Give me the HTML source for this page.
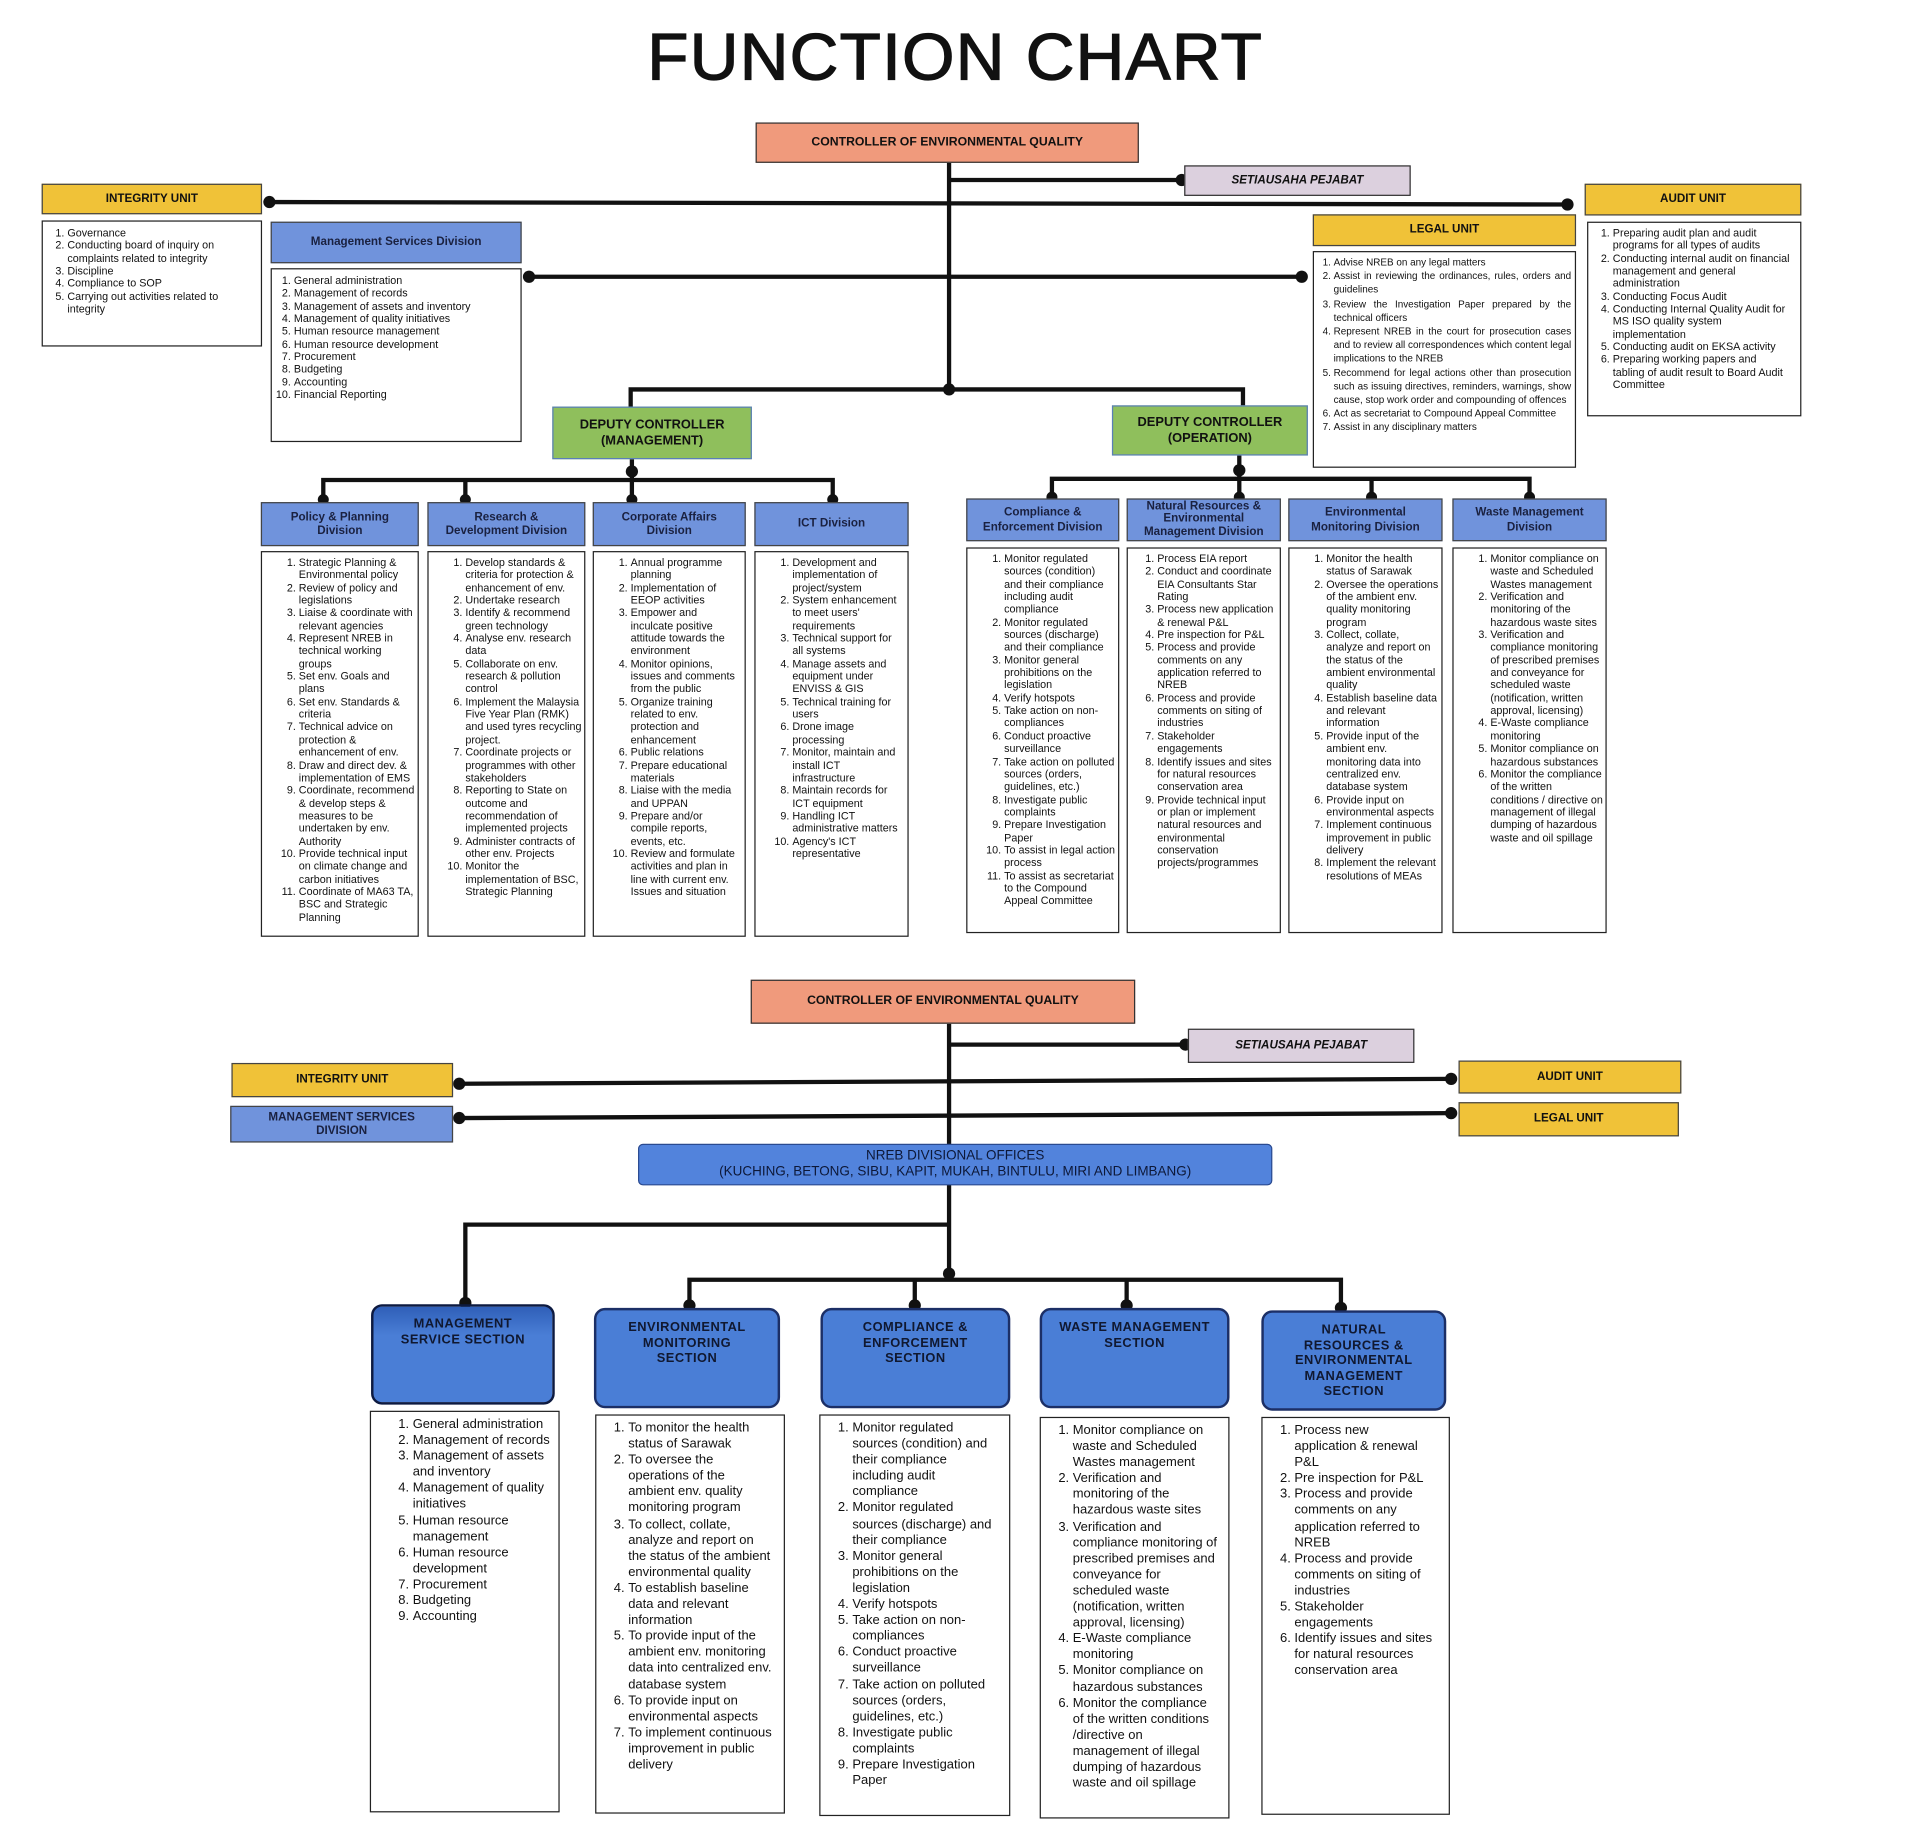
<!DOCTYPE html>
<html><head><meta charset="utf-8">
<style>
html,body{margin:0;padding:0;background:#fff;}
body{width:1920px;height:1844px;overflow:hidden;position:relative;}
#c{position:absolute;left:0;top:0;width:1568px;height:1506px;transform:scale(1.2246);transform-origin:0 0;font-family:"Liberation Sans",Arial,sans-serif;color:#111;}
.h{position:absolute;display:flex;align-items:center;justify-content:center;text-align:center;font-weight:bold;box-sizing:border-box;border:1.5px solid #444;line-height:1.2;}
.b{position:absolute;box-sizing:border-box;border:1.5px solid #222;background:#fff;}
.y{background:#f0c238;font-size:9.5px;}
.bl{background:#7093dc;font-size:9.5px;color:#1a2140;}
.gr{background:#8fbf5c;font-size:10.5px;border-color:#5a7fb8;}
.sa{background:#f09a7c;font-size:10px;border-color:#333;}
.pu{background:#dcd0de;font-size:9.5px;font-style:italic;border-color:#333;}
ol{margin:0;padding:0 0 0 26px;}
.t ol{font-size:8.8px;line-height:10.35px;padding-left:30px;}
.t li{padding-left:0;}
.s ol{font-size:10.6px;line-height:13.1px;padding-left:26px;}
.sec{position:absolute;box-sizing:border-box;border:2px solid #1c2f66;border-radius:9px;background:#4a7ed6;display:flex;justify-content:center;text-align:center;font-weight:bold;font-size:10.5px;line-height:12.5px;color:#101830;letter-spacing:.4px;padding-top:8px;}
</style></head><body><div id="c">
<div style="position:absolute;left:0;width:1560px;top:16px;text-align:center;font-size:54px;letter-spacing:1px;-webkit-text-stroke:1px #111;transform:scaleX(1.02);">FUNCTION CHART</div>

<svg width="1560" height="1498" style="position:absolute;left:0;top:0" stroke="#111" fill="#111">
<g stroke-width="3.5" fill="none">
<line x1="775" y1="133" x2="775" y2="318"/>
<line x1="775" y1="147" x2="965" y2="147"/>
<line x1="220" y1="165" x2="1280" y2="167"/>
<line x1="432" y1="226" x2="1063" y2="226"/>
<polyline points="515,332 515,318 1015,318 1015,331"/>
<line x1="516" y1="375" x2="516" y2="392"/>
<polyline points="264,408 264,392 680,392 680,408"/>
<line x1="380" y1="392" x2="380" y2="408"/><line x1="516" y1="392" x2="516" y2="408"/>
<line x1="1012" y1="372" x2="1012" y2="391"/>
<polyline points="859,407 859,391 1249,391 1249,407"/>
<line x1="1012" y1="391" x2="1012" y2="407"/><line x1="1120" y1="391" x2="1120" y2="407"/>
<line x1="775" y1="836" x2="775" y2="1045"/>
<line x1="775" y1="853" x2="968" y2="853"/>
<line x1="375" y1="885" x2="1185" y2="881"/>
<line x1="375" y1="913" x2="1185" y2="909"/>
<polyline points="380,1065 380,1000 775,1000"/>
<polyline points="563,1068 563,1045 1095,1045 1095,1070"/>
<line x1="747" y1="1045" x2="747" y2="1068"/><line x1="920" y1="1045" x2="920" y2="1068"/>
</g>
<g stroke="none">
<circle cx="965" cy="147" r="5"/><circle cx="220" cy="165" r="5"/><circle cx="1280" cy="167" r="5"/>
<circle cx="432" cy="226" r="5"/><circle cx="1063" cy="226" r="5"/><circle cx="775" cy="318" r="5"/>
<circle cx="516" cy="385" r="5"/><circle cx="264" cy="408" r="4.5"/><circle cx="380" cy="408" r="4.5"/><circle cx="516" cy="408" r="4.5"/><circle cx="680" cy="408" r="4.5"/>
<circle cx="1012" cy="384" r="5"/><circle cx="859" cy="406" r="4.5"/><circle cx="1012" cy="406" r="4.5"/><circle cx="1120" cy="406" r="4.5"/><circle cx="1249" cy="406" r="4.5"/>
<circle cx="968" cy="853" r="5"/><circle cx="375" cy="885" r="5"/><circle cx="1185" cy="881" r="5"/><circle cx="375" cy="913" r="5"/><circle cx="1185" cy="909" r="5"/>
<circle cx="775" cy="1040" r="5"/><circle cx="380" cy="1064" r="5"/><circle cx="563" cy="1066" r="5"/><circle cx="747" cy="1066" r="5"/><circle cx="920" cy="1066" r="5"/><circle cx="1095" cy="1068" r="5"/>
</g>
</svg>

<div class="h sa" style="left:617px;top:100px;width:313px;height:33px;">CONTROLLER OF ENVIRONMENTAL QUALITY</div>
<div class="h pu" style="left:967px;top:135px;width:185px;height:25px;">SETIAUSAHA PEJABAT</div>
<div class="h y" style="left:34px;top:150px;width:180px;height:25px;">INTEGRITY UNIT</div>
<div class="b t" style="left:34px;top:180px;width:180px;height:103px;padding:4px 18px 0 0;"><ol style="padding-left:20px">
<li>Governance</li><li>Conducting board of inquiry on complaints related to integrity</li><li>Discipline</li><li>Compliance to SOP</li><li>Carrying out activities related to integrity</li></ol></div>
<div class="h bl" style="left:221px;top:181px;width:205px;height:34px;">Management Services Division</div>
<div class="b t" style="left:221px;top:219px;width:205px;height:142px;padding:4px 2px 0 0;"><ol style="padding-left:18px">
<li>General administration</li><li>Management of records</li><li>Management of assets and inventory</li><li>Management of quality initiatives</li><li>Human resource management</li><li>Human resource development</li><li>Procurement</li><li>Budgeting</li><li>Accounting</li><li>Financial Reporting</li></ol></div>
<div class="h y" style="left:1294px;top:150px;width:177px;height:26px;">AUDIT UNIT</div>
<div class="b t" style="left:1296px;top:181px;width:175px;height:159px;padding:3px 8px 0 0;"><ol style="padding-left:20px">
<li>Preparing audit plan and audit programs for all types of audits</li><li>Conducting internal audit on financial management and general administration</li><li>Conducting Focus Audit</li><li>Conducting Internal Quality Audit for MS ISO quality system implementation</li><li>Conducting audit on EKSA activity</li><li>Preparing working papers and tabling of audit result to Board Audit Committee</li></ol></div>
<div class="h y" style="left:1072px;top:175px;width:215px;height:26px;">LEGAL UNIT</div>
<div class="b t" style="left:1072px;top:205px;width:215px;height:177px;padding:3px 3px 0 0;text-align:justify;"><ol style="padding-left:16px;font-size:8.1px;line-height:11.2px;">
<li>Advise NREB on any legal matters</li><li>Assist in reviewing the ordinances, rules, orders and guidelines</li><li>Review the Investigation Paper prepared by the technical officers</li><li>Represent NREB in the court for prosecution cases and to review all correspondences which content legal implications to the NREB</li><li>Recommend for legal actions other than prosecution such as issuing directives, reminders, warnings, show cause, stop work order and compounding of offences</li><li>Act as secretariat to Compound Appeal Committee</li><li>Assist in any disciplinary matters</li></ol></div>
<div class="h gr" style="left:451px;top:332px;width:163px;height:43px;">DEPUTY CONTROLLER<br>(MANAGEMENT)</div>
<div class="h gr" style="left:908px;top:331px;width:160px;height:41px;">DEPUTY CONTROLLER<br>(OPERATION)</div>

<div class="h bl" style="left:213px;top:410px;width:129px;height:36px;">Policy &amp; Planning<br>Division</div>
<div class="h bl" style="left:349px;top:410px;width:129px;height:36px;">Research &amp;<br>Development Division</div>
<div class="h bl" style="left:484px;top:410px;width:125px;height:36px;">Corporate Affairs<br>Division</div>
<div class="h bl" style="left:616px;top:410px;width:126px;height:36px;">ICT Division</div>
<div class="b t" style="left:213px;top:450px;width:129px;height:315px;padding:3px 2px 0 0;"><ol>
<li>Strategic Planning &amp; Environmental policy</li><li>Review of policy and legislations</li><li>Liaise &amp; coordinate with relevant agencies</li><li>Represent NREB in technical working groups</li><li>Set env. Goals and plans</li><li>Set env. Standards &amp; criteria</li><li>Technical advice on protection &amp; enhancement of env.</li><li>Draw and direct dev. &amp; implementation of EMS</li><li>Coordinate, recommend &amp; develop steps &amp; measures to be undertaken by env. Authority</li><li>Provide technical input on climate change and carbon initiatives</li><li>Coordinate of MA63 TA, BSC and Strategic Planning</li></ol></div>
<div class="b t" style="left:349px;top:450px;width:129px;height:315px;padding:3px 2px 0 0;"><ol>
<li>Develop standards &amp; criteria for protection &amp; enhancement of env.</li><li>Undertake research</li><li>Identify &amp; recommend green technology</li><li>Analyse env. research data</li><li>Collaborate on env. research &amp; pollution control</li><li>Implement the Malaysia Five Year Plan (RMK) and used tyres recycling project.</li><li>Coordinate projects or programmes with other stakeholders</li><li>Reporting to State on outcome and recommendation of implemented projects</li><li>Administer contracts of other env. Projects</li><li>Monitor the implementation of BSC, Strategic Planning</li></ol></div>
<div class="b t" style="left:484px;top:450px;width:125px;height:315px;padding:3px 2px 0 0;"><ol>
<li>Annual programme planning</li><li>Implementation of EEOP activities</li><li>Empower and inculcate positive attitude towards the environment</li><li>Monitor opinions, issues and comments from the public</li><li>Organize training related to env. protection and enhancement</li><li>Public relations</li><li>Prepare educational materials</li><li>Liaise with the media and UPPAN</li><li>Prepare and/or compile reports, events, etc.</li><li>Review and formulate activities and plan in line with current env. Issues and situation</li></ol></div>
<div class="b t" style="left:616px;top:450px;width:126px;height:315px;padding:3px 2px 0 0;"><ol>
<li>Development and implementation of project/system</li><li>System enhancement to meet users' requirements</li><li>Technical support for all systems</li><li>Manage assets and equipment under ENVISS &amp; GIS</li><li>Technical training for users</li><li>Drone image processing</li><li>Monitor, maintain and install ICT infrastructure</li><li>Maintain records for ICT equipment</li><li>Handling ICT administrative matters</li><li>Agency's ICT representative</li></ol></div>

<div class="h bl" style="left:789px;top:407px;width:125px;height:35px;">Compliance &amp;<br>Enforcement Division</div>
<div class="h bl" style="left:920px;top:407px;width:126px;height:35px;line-height:1.1;">Natural Resources &amp;<br>Environmental<br>Management Division</div>
<div class="h bl" style="left:1052px;top:407px;width:126px;height:35px;">Environmental<br>Monitoring Division</div>
<div class="h bl" style="left:1186px;top:407px;width:126px;height:35px;">Waste Management<br>Division</div>
<div class="b t" style="left:789px;top:447px;width:125px;height:315px;padding:3px 2px 0 0;"><ol>
<li>Monitor regulated sources (condition) and their compliance including audit compliance</li><li>Monitor regulated sources (discharge) and their compliance</li><li>Monitor general prohibitions on the legislation</li><li>Verify hotspots</li><li>Take action on non-compliances</li><li>Conduct proactive surveillance</li><li>Take action on polluted sources (orders, guidelines, etc.)</li><li>Investigate public complaints</li><li>Prepare Investigation Paper</li><li>To assist in legal action process</li><li>To assist as secretariat to the Compound Appeal Committee</li></ol></div>
<div class="b t" style="left:920px;top:447px;width:126px;height:315px;padding:3px 2px 0 0;"><ol style="padding-left:24px">
<li>Process EIA report</li><li>Conduct and coordinate EIA Consultants Star Rating</li><li>Process new application &amp; renewal P&amp;L</li><li>Pre inspection for P&amp;L</li><li>Process and provide comments on any application referred to NREB</li><li>Process and provide comments on siting of industries</li><li>Stakeholder engagements</li><li>Identify issues and sites for natural resources conservation area</li><li>Provide technical input or plan or implement natural resources and environmental conservation projects/programmes</li></ol></div>
<div class="b t" style="left:1052px;top:447px;width:126px;height:315px;padding:3px 2px 0 0;"><ol>
<li>Monitor the health status of Sarawak</li><li>Oversee the operations of the ambient env. quality monitoring program</li><li>Collect, collate, analyze and report on the status of the ambient environmental quality</li><li>Establish baseline data and relevant information</li><li>Provide input of the ambient env. monitoring data into centralized env. database system</li><li>Provide input on environmental aspects</li><li>Implement continuous improvement in public delivery</li><li>Implement the relevant resolutions of MEAs</li></ol></div>
<div class="b t" style="left:1186px;top:447px;width:126px;height:315px;padding:3px 2px 0 0;"><ol>
<li>Monitor compliance on waste and Scheduled Wastes management</li><li>Verification and monitoring of the hazardous waste sites</li><li>Verification and compliance monitoring of prescribed premises and conveyance for scheduled waste (notification, written approval, licensing)</li><li>E-Waste compliance monitoring</li><li>Monitor compliance on hazardous substances</li><li>Monitor the compliance of the written conditions / directive on management of illegal dumping of hazardous waste and oil spillage</li></ol></div>

<!-- bottom -->
<div class="h sa" style="left:613px;top:800px;width:314px;height:36px;">CONTROLLER OF ENVIRONMENTAL QUALITY</div>
<div class="h pu" style="left:970px;top:840px;width:185px;height:28px;">SETIAUSAHA PEJABAT</div>
<div class="h y" style="left:189px;top:868px;width:181px;height:28px;">INTEGRITY UNIT</div>
<div class="h bl" style="left:188px;top:903px;width:182px;height:30px;">MANAGEMENT SERVICES<br>DIVISION</div>
<div class="h y" style="left:1191px;top:866px;width:182px;height:27px;">AUDIT UNIT</div>
<div class="h y" style="left:1191px;top:900px;width:180px;height:28px;">LEGAL UNIT</div>
<div class="h" style="left:521px;top:934px;width:518px;height:34px;background:#5283dc;border-color:#2a4a90;border-radius:4px;font-size:11px;font-weight:normal;color:#0d1838;">NREB DIVISIONAL OFFICES<br>(KUCHING, BETONG, SIBU, KAPIT, MUKAH, BINTULU, MIRI AND LIMBANG)</div>

<div class="sec" style="left:303px;top:1065px;width:150px;height:82px;background:linear-gradient(#2f5fb8,#4a7ed6 30%);border-width:2.5px;border-color:#0d1a40;">MANAGEMENT<br>SERVICE SECTION</div>
<div class="sec" style="left:485px;top:1068px;width:152px;height:82px;">ENVIRONMENTAL<br>MONITORING<br>SECTION</div>
<div class="sec" style="left:670px;top:1068px;width:155px;height:82px;">COMPLIANCE &amp;<br>ENFORCEMENT<br>SECTION</div>
<div class="sec" style="left:849px;top:1068px;width:155px;height:82px;">WASTE MANAGEMENT<br>SECTION</div>
<div class="sec" style="left:1030px;top:1070px;width:151px;height:82px;">NATURAL<br>RESOURCES &amp;<br>ENVIRONMENTAL<br>MANAGEMENT<br>SECTION</div>

<div class="b s" style="left:302px;top:1152px;width:155px;height:328px;padding:4px 3px 0 0;"><ol style="padding-left:34px">
<li>General administration</li><li>Management of records</li><li>Management of assets and inventory</li><li>Management of quality initiatives</li><li>Human resource management</li><li>Human resource development</li><li>Procurement</li><li>Budgeting</li><li>Accounting</li></ol></div>
<div class="b s" style="left:486px;top:1155px;width:155px;height:326px;padding:4px 8px 0 0;"><ol>
<li>To monitor the health status of Sarawak</li><li>To oversee the operations of the ambient env. quality monitoring program</li><li>To collect, collate, analyze and report on the status of the ambient environmental quality</li><li>To establish baseline data and relevant information</li><li>To provide input of the ambient env. monitoring data into centralized env. database system</li><li>To provide input on environmental aspects</li><li>To implement continuous improvement in public delivery</li></ol></div>
<div class="b s" style="left:669px;top:1155px;width:156px;height:328px;padding:4px 8px 0 0;"><ol>
<li>Monitor regulated sources (condition) and their compliance including audit compliance</li><li>Monitor regulated sources (discharge) and their compliance</li><li>Monitor general prohibitions on the legislation</li><li>Verify hotspots</li><li>Take action on non-compliances</li><li>Conduct proactive surveillance</li><li>Take action on polluted sources (orders, guidelines, etc.)</li><li>Investigate public complaints</li><li>Prepare Investigation Paper</li></ol></div>
<div class="b s" style="left:849px;top:1157px;width:155px;height:328px;padding:4px 8px 0 0;"><ol>
<li>Monitor compliance on waste and Scheduled Wastes management</li><li>Verification and monitoring of the hazardous waste sites</li><li>Verification and compliance monitoring of prescribed premises and conveyance for scheduled waste (notification, written approval, licensing)</li><li>E-Waste compliance monitoring</li><li>Monitor compliance on hazardous substances</li><li>Monitor the compliance of the written conditions /directive on management of illegal dumping of hazardous waste and oil spillage</li></ol></div>
<div class="b s" style="left:1030px;top:1157px;width:154px;height:325px;padding:4px 12px 0 0;"><ol>
<li>Process new application &amp; renewal P&amp;L</li><li>Pre inspection for P&amp;L</li><li>Process and provide comments on any application referred to NREB</li><li>Process and provide comments on siting of industries</li><li>Stakeholder engagements</li><li>Identify issues and sites for natural resources conservation area</li></ol></div>
</div></body></html>
